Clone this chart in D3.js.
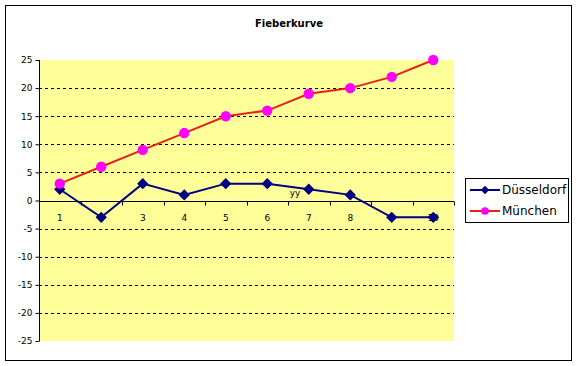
<!DOCTYPE html>
<html>
<head>
  <meta charset="UTF-8">
  <title>Fieberkurve</title>
  <script src="https://cdn.jsdelivr.net/npm/d3@7"></script>
  <style>
    body { margin: 0; background: #fff; }
    text { font-family: "DejaVu Sans", Verdana, sans-serif; }
  </style>
</head>
<body>
<svg id="chart" width="578" height="366"></svg>
<script>
  // chart data
  const days = [1, 2, 3, 4, 5, 6, 7, 8, 9, 10];
  const duesseldorf = [2, -3, 3, 1, 3, 3, 2, 1, -3, -3];
  const muenchen = [3, 6, 9, 12, 15, 16, 19, 20, 22, 25];
  const yTicks = [-25, -20, -15, -10, -5, 0, 5, 10, 15, 20, 25];

  const series = [
    { name: 'Düsseldorf', values: duesseldorf, line: '#000080', marker: '#000080', shape: d3.symbolSquare, rotate: 45, size: 64 },
    { name: 'München', values: muenchen, line: '#e8201a', marker: '#ff00ff', shape: d3.symbolCircle, rotate: 0, size: 85 }
  ];

  const svg = d3.select('#chart');

  // outer frame
  svg.append('rect')
    .attr('x', 5.5).attr('y', 5.5).attr('width', 566).attr('height', 355)
    .attr('fill', '#fff').attr('stroke', '#000').attr('stroke-width', 1);

  svg.append('text')
    .attr('x', 289).attr('y', 27)
    .attr('text-anchor', 'middle')
    .style('font-size', '10px').style('font-weight', 'bold')
    .text('Fieberkurve');

  const plot = { left: 39, right: 454, top: 60, bottom: 341 };

  const x = d3.scaleBand().domain(days).range([plot.left, plot.right]);
  const y = d3.scaleLinear().domain([-25, 25]).range([plot.bottom, plot.top]);

  // plot background
  svg.append('rect')
    .attr('x', plot.left).attr('y', plot.top)
    .attr('width', plot.right - plot.left).attr('height', plot.bottom - plot.top)
    .attr('fill', '#ffff99');

  // dashed gridlines
  svg.append('g').selectAll('line')
    .data(yTicks.filter(t => t !== 0 && Math.abs(t) !== 25))
    .enter().append('line')
      .attr('x1', plot.left).attr('x2', plot.right)
      .attr('y1', d => Math.round(y(d)) + 0.5).attr('y2', d => Math.round(y(d)) + 0.5)
      .attr('stroke', '#000').attr('stroke-dasharray', '3,3');

  // y axis
  const yAxis = svg.append('g')
    .attr('transform', `translate(${plot.left + 0.5},0)`)
    .call(d3.axisLeft(y).tickValues(yTicks).tickSize(4).tickPadding(3).tickFormat(d => String(d)));
  yAxis.select('.domain').attr('d', `M0,${plot.top}V${plot.bottom}`);
  yAxis.selectAll('text').style('font-size', '9px').style('font-family', '"DejaVu Sans", Verdana, sans-serif');

  // x axis on zero line
  const y0 = Math.round(y(0)) + 0.5;
  svg.append('line')
    .attr('x1', plot.left).attr('x2', plot.right)
    .attr('y1', y0).attr('y2', y0).attr('stroke', '#000');

  svg.append('g').selectAll('line')
    .data(days)
    .enter().append('line')
      .attr('x1', d => Math.round(x(d) + x.bandwidth()) + 0.5)
      .attr('x2', d => Math.round(x(d) + x.bandwidth()) + 0.5)
      .attr('y1', y0).attr('y2', y0 + 4)
      .attr('stroke', '#000');

  svg.append('g').selectAll('text')
    .data(days)
    .enter().append('text')
      .attr('x', d => x(d) + x.bandwidth() / 2)
      .attr('y', y0 + 19)
      .attr('text-anchor', 'middle')
      .style('font-size', '9px')
      .text(d => d);

  svg.append('text')
    .attr('x', 295).attr('y', 196)
    .attr('text-anchor', 'middle')
    .style('font-size', '9px')
    .text('yy');

  // lines and markers
  const line = d3.line()
    .x((d, i) => x(days[i]) + x.bandwidth() / 2)
    .y(d => y(d));

  series.forEach(s => {
    svg.append('path')
      .datum(s.values)
      .attr('d', line)
      .attr('fill', 'none')
      .attr('stroke', s.line)
      .attr('stroke-width', 2);

    svg.append('g').selectAll('path')
      .data(s.values)
      .enter().append('path')
        .attr('transform', (d, i) => `translate(${x(days[i]) + x.bandwidth() / 2},${y(d)}) rotate(${s.rotate})`)
        .attr('d', d3.symbol().type(s.shape).size(s.size))
        .attr('fill', s.marker);
  });

  // legend
  const legend = svg.append('g');
  legend.append('rect')
    .attr('x', 465.5).attr('y', 178.5).attr('width', 103).attr('height', 44)
    .attr('fill', '#fff').attr('stroke', '#000');

  series.forEach((s, i) => {
    const ly = 190 + i * 21;
    legend.append('line')
      .attr('x1', 470).attr('x2', 500).attr('y1', ly).attr('y2', ly)
      .attr('stroke', s.line).attr('stroke-width', 2);
    legend.append('path')
      .attr('transform', `translate(485,${ly}) rotate(${s.rotate})`)
      .attr('d', d3.symbol().type(s.shape).size(s.size * 0.55))
      .attr('fill', s.marker);
    legend.append('text')
      .attr('x', 502).attr('y', ly + 4)
      .style('font-size', '12px')
      .text(s.name);
  });
</script>
</body>
</html>
